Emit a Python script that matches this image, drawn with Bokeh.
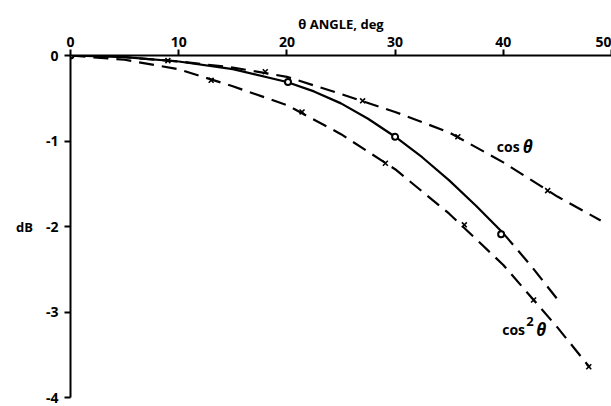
from bokeh.plotting import figure
from bokeh.models import FixedTicker, Label
from bokeh.embed import file_html
from bokeh.resources import INLINE

# ---- data ----
x_ticks = [0, 10, 20, 30, 40, 50]
x_tick_labels = ["0", "10", "20", "30", "40", "50"]
y_ticks = [0, -1, -2, -3, -4]
y_tick_labels = ["0", "-1", "-2", "-3", "-4"]

# solid curve (with circles)
solid_x = [0, 5, 10, 15, 20, 22.5, 25, 27.5, 30, 32.5, 35, 37.5, 40]
solid_y = [0, -0.02, -0.07, -0.16, -0.31, -0.42, -0.56, -0.74, -0.95, -1.19, -1.46, -1.76, -2.08]
solid_ext_x = [40, 42.5, 45]
solid_ext_y = [-2.08, -2.45, -2.85]
circle_x = [0, 20.1, 30, 39.8]
circle_y = [0, -0.31, -0.95, -2.09]

# cos theta (dashed)
cos_x = [0, 5, 10, 15, 20, 25, 30, 35, 40, 45, 49]
cos_y = [0, -0.02, -0.07, -0.14, -0.25, -0.45, -0.66, -0.9, -1.25, -1.65, -1.93]
cos_mx = [9, 18, 27, 35.8, 44.1]
cos_my = [-0.06, -0.19, -0.53, -0.95, -1.58]

# cos^2 theta (dashed)
cos2_x = [0, 5, 10, 15, 20, 25, 30, 35, 40, 45, 48]
cos2_y = [0, -0.05, -0.16, -0.36, -0.58, -0.92, -1.33, -1.85, -2.45, -3.18, -3.65]
cos2_mx = [13, 21.4, 29.1, 36.4, 42.8, 47.9]
cos2_my = [-0.29, -0.66, -1.26, -1.98, -2.86, -3.64]

FONT = "Open Sans"

p = figure(width=611, height=406, x_range=(0, 50), y_range=(-4, 0),
           x_axis_location="above", output_backend="svg", toolbar_location=None,
           min_border_left=70, min_border_right=0, min_border_top=55, min_border_bottom=9)
p.outline_line_color = None
p.xgrid.visible = False
p.ygrid.visible = False
p.background_fill_color = "white"
p.border_fill_color = "white"

for ax, ticks, labels in ((p.xaxis[0], x_ticks, x_tick_labels), (p.yaxis[0], y_ticks, y_tick_labels)):
    ax.ticker = FixedTicker(ticks=ticks)
    ax.major_label_overrides = {t: s for t, s in zip(ticks, labels)}
    ax.axis_line_width = 2
    ax.axis_line_color = "black"
    ax.major_tick_line_width = 2
    ax.major_tick_line_color = "black"
    ax.major_tick_in = 0
    ax.major_tick_out = 6
    ax.minor_tick_line_color = None
    ax.major_label_text_font = FONT
    ax.major_label_text_font_style = "bold"
    ax.major_label_text_font_size = "14px"
    ax.major_label_text_color = "black"
    ax.axis_label_text_font = FONT
    ax.axis_label_text_font_style = "bold"
    ax.axis_label_text_font_size = "13px"
    ax.axis_label_text_color = "black"

p.xaxis[0].axis_label = "θ ANGLE, deg"
p.xaxis[0].major_label_standoff = 3
p.xaxis[0].axis_label_standoff = 1
p.yaxis[0].axis_label = "dB"
p.yaxis[0].axis_label_orientation = "horizontal"
p.yaxis[0].major_label_standoff = 6
p.yaxis[0].axis_label_standoff = 10

dash = "15 8"
p.line(cos_x, cos_y, line_color="black", line_width=2.2, line_dash=dash)
p.line(cos2_x, cos2_y, line_color="black", line_width=2.2, line_dash=dash)
p.line(solid_x, solid_y, line_color="black", line_width=2.2)
p.line(solid_ext_x, solid_ext_y, line_color="black", line_width=2.2, line_dash=dash)

p.scatter(cos_mx, cos_my, marker="x", size=7, line_color="black", line_width=1.6)
p.scatter(cos2_mx, cos2_my, marker="x", size=7, line_color="black", line_width=1.6)
p.scatter(circle_x, circle_y, marker="circle", size=6, line_color="black",
          line_width=2, fill_color="white")

# curve labels
def lab(x, y, text, size, style, dx=0, dy=0):
    p.add_layout(Label(x=x, y=y, x_offset=dx, y_offset=dy, text=text, text_font=FONT,
                       text_font_style=style, text_font_size=size,
                       text_color="black", text_baseline="alphabetic"))

lab(39.4, -1.07, "cos", "14px", "bold")
lab(39.4, -1.07, "θ", "17px", "bold italic", dx=26)
lab(39.9, -3.21, "cos", "14px", "bold")
lab(39.9, -3.21, "2", "13px", "bold", dx=24, dy=8)
lab(39.9, -3.21, "θ", "17px", "bold italic", dx=34)

open("out.html", "w").write(file_html(p, INLINE))
